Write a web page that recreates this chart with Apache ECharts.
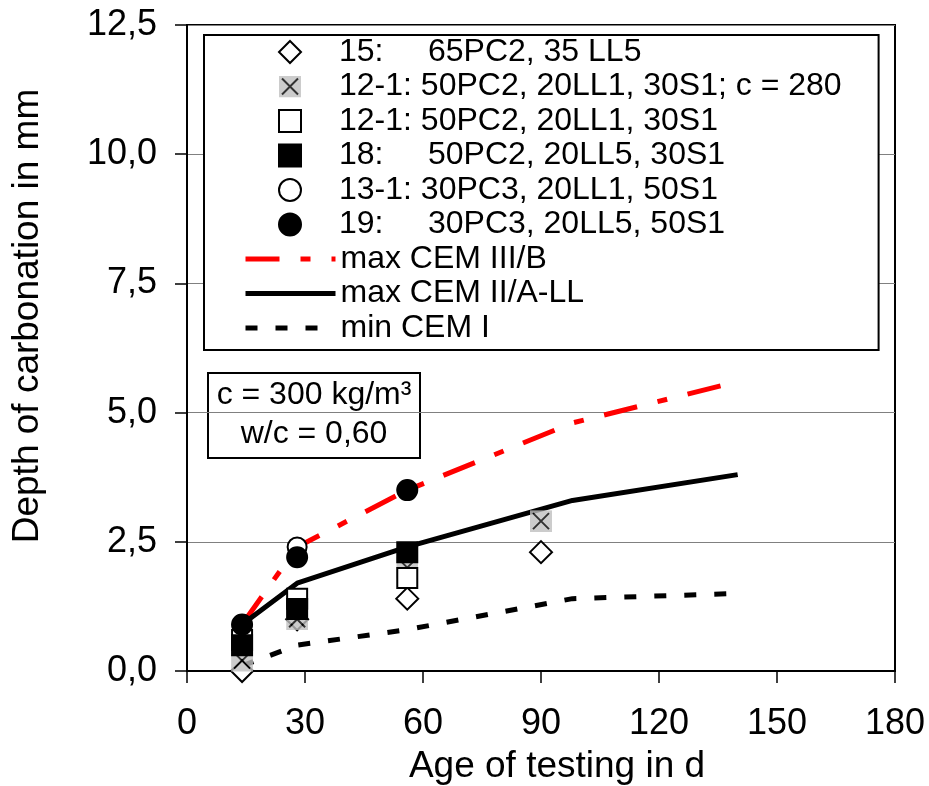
<!DOCTYPE html>
<html>
<head>
<meta charset="utf-8">
<script src="https://cdn.jsdelivr.net/npm/echarts@6/dist/echarts.min.js"></script>
<style>html,body{margin:0;padding:0;background:#fff;}#c{width:929px;height:786px;}</style>
</head>
<body>
<div id="c"></div>
<script>
// ---- data ----
const ages = [14, 28, 56, 90];
const s15   = [0.0, 1.0, 1.4, 2.3];       // 15: 65PC2, 35 LL5
const s12c  = [0.2, 1.0, 2.0, 2.9];       // 12-1 c = 280
const s12   = [0.6, 1.4, 1.8, null];      // 12-1
const s18   = [0.5, 1.2, 2.3, null];      // 18
const s13   = [0.9, 2.4, 3.5, null];      // 13-1
const s19   = [0.9, 2.2, 3.5, null];      // 19
const curveAges = [14, 28, 56, 98, 140];
const maxCEM3B = [0.9, 2.4, 3.5, 4.8, 5.6];
const maxCEM2  = [0.9, 1.7, 2.4, 3.3, 3.8];
const minCEM1  = [0.1, 0.5, 0.8, 1.4, 1.5];
const markerNames = [
  '15:     65PC2, 35 LL5',
  '12-1: 50PC2, 20LL1, 30S1; c = 280',
  '12-1: 50PC2, 20LL1, 30S1',
  '18:     50PC2, 20LL5, 30S1',
  '13-1: 30PC3, 20LL1, 50S1',
  '19:     30PC3, 20LL5, 50S1'
];
const lineNames = ['max CEM III/B', 'max CEM II/A-LL', 'min CEM I'];

const FF = '"Liberation Sans", Arial, sans-serif';
const pairs = (xs, ys) => xs.map((x, i) => ys[i] == null ? null : [x, ys[i]]).filter(p => p);
const svgX = '<svg xmlns="http://www.w3.org/2000/svg" width="44" height="44" viewBox="0 0 22 22"><rect x="0" y="0" width="22" height="22" fill="#c0c0c0"/><path d="M3 3L19 19M19 3L3 19" stroke="#000" stroke-width="2" fill="none"/></svg>';
const xSymbol = 'image://data:image/svg+xml;charset=utf-8,' + encodeURIComponent(svgX);

function scatter(name, ys, symbol, size, fill) {
  return {
    name, type: 'scatter', data: pairs(ages, ys), symbol, symbolSize: size,
    symbolKeepAspect: true, z: 3,
    itemStyle: { color: fill, borderColor: '#000', borderWidth: 2, opacity: 1 },
    emphasis: { disabled: true }
  };
}
function line(name, ys, color, type) {
  return {
    name, type: 'line', data: pairs(curveAges, ys), symbol: 'circle', showSymbol: false, z: 2,
    lineStyle: { color, width: 5, type, cap: 'butt' },
    itemStyle: { color },
    emphasis: { disabled: true }
  };
}

const rowH = 34.5;
const chart = echarts.init(document.getElementById('c'), null, { renderer: 'canvas' });
chart.setOption({
  animation: false,
  backgroundColor: '#fff',
  grid: { left: 187, right: 34, top: 25, bottom: 115, outerBoundsMode: 'none', containLabel: false,
    show: true, borderColor: '#000', borderWidth: 2, backgroundColor: 'transparent' },
  xAxis: {
    type: 'value', min: 0, max: 180, interval: 30,
    name: 'Age of testing in d', nameLocation: 'middle', nameGap: 77,
    nameTextStyle: { fontSize: 37, fontFamily: FF, color: '#000', padding: [0, 0, 0, 32] },
    axisLine: { show: true, lineStyle: { color: '#000', width: 2 } },
    axisTick: { show: true, inside: false, length: 12, lineStyle: { color: '#000', width: 1.5 } },
    axisLabel: { fontSize: 36, fontFamily: FF, color: '#000', margin: 35 },
    splitLine: { show: false }
  },
  yAxis: {
    type: 'value', min: 0, max: 12.5, interval: 2.5,
    name: 'Depth of carbonation in mm', nameLocation: 'middle', nameGap: 141,
    nameTextStyle: { fontSize: 37, fontFamily: FF, color: '#000', padding: [0, 0, 0, 64] },
    axisLine: { show: true, lineStyle: { color: '#000', width: 2 } },
    axisTick: { show: true, inside: false, length: 12, lineStyle: { color: '#000', width: 1.5 } },
    axisLabel: { fontSize: 36, fontFamily: FF, color: '#000', margin: 30,
      formatter: v => v.toFixed(1).replace('.', ',') },
    splitLine: { show: true, lineStyle: { color: '#808080', width: 1 } }
  },
  legend: [{
    orient: 'vertical', left: 204, top: 35, z: 4,
    itemWidth: 22, itemHeight: 22, itemGap: 2.5,
    padding: [1, 37, 6 + 3 * rowH, 74],
    borderColor: '#000', borderWidth: 2, backgroundColor: '#fff',
    selectedMode: false,
    textStyle: { fontSize: 32, fontFamily: FF, color: '#000', padding: [0, 0, 0, 33] },
    data: markerNames
  }, {
    orient: 'vertical', left: 243, top: 36 + 6 * rowH, z: 5,
    itemWidth: 90, itemHeight: 22, itemGap: 2.5,
    padding: 0,
    selectedMode: false,
    lineStyle: { width: 5 },
    itemStyle: { color: 'rgba(0,0,0,0)', borderColor: 'rgba(0,0,0,0)', borderWidth: 0, opacity: 0 },
    textStyle: { fontSize: 32, fontFamily: FF, color: '#000' },
    data: lineNames
  }],
  graphic: [{
    type: 'group', left: 207, top: 372, z: 10,
    children: [
      { type: 'rect', shape: { x: 0, y: 0, width: 212, height: 85 }, style: { fill: '#fff', stroke: '#000', lineWidth: 2 } },
      { type: 'text', x: 106, y: 22, style: { text: 'c = 300 kg/m³', font: '32px ' + FF, fill: '#000', align: 'center', verticalAlign: 'middle' } },
      { type: 'text', x: 106, y: 61, style: { text: 'w/c = 0,60', font: '32px ' + FF, fill: '#000', align: 'center', verticalAlign: 'middle' } }
    ]
  }],
  series: [
    line(lineNames[0], maxCEM3B, '#ff0000', [34, 21, 10, 21]),
    line(lineNames[1], maxCEM2, '#000', 'solid'),
    line(lineNames[2], minCEM1, '#000', [12, 18]),
    scatter(markerNames[0], s15, 'diamond', 22, '#fff'),
    { name: markerNames[1], type: 'scatter', data: pairs(ages, s12c), symbol: xSymbol, symbolSize: 22, symbolKeepAspect: true, z: 3,
      itemStyle: { color: '#c0c0c0' }, emphasis: { disabled: true } },
    scatter(markerNames[2], s12, 'rect', 20, '#fff'),
    scatter(markerNames[3], s18, 'rect', 20, '#000'),
    scatter(markerNames[4], s13, 'circle', 19, '#fff'),
    scatter(markerNames[5], s19, 'circle', 20, '#000')
  ]
});
</script>
</body>
</html>
